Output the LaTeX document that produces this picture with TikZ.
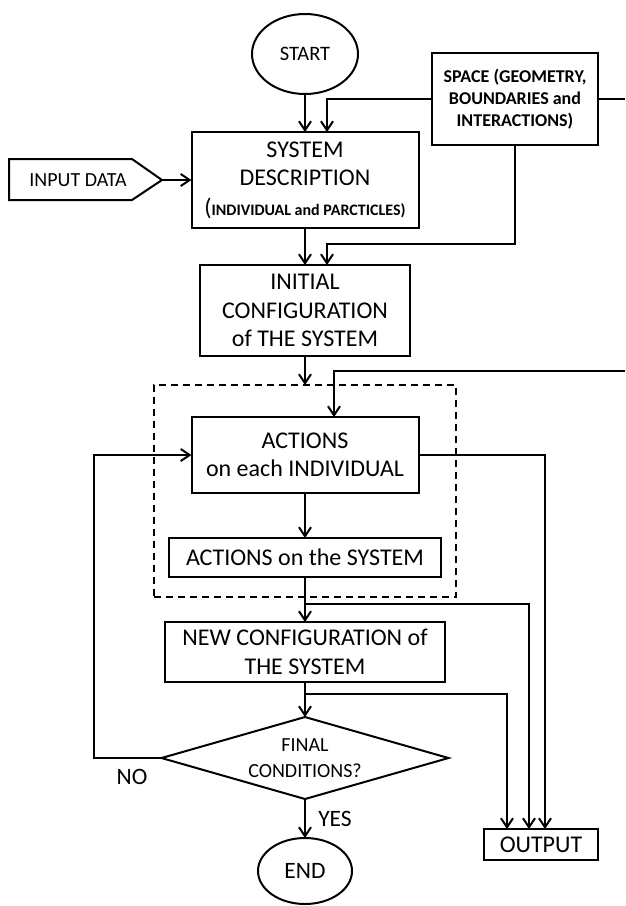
\documentclass[tikz,border=0pt]{standalone}
\usepackage{fontspec}
\setmainfont{Carlito}
\usetikzlibrary{arrows.meta,shapes.geometric,calc}
\begin{document}
\begin{tikzpicture}[x=1pt,y=-1pt,
  line width=2pt,
  box/.style={draw,line width=2pt,inner sep=0pt,outer sep=0pt,align=center,font=\fontsize{24}{28.5}\selectfont},
  arr/.style={-{Straight Barb[length=9pt,width=12pt]},line width=2pt},
  ln/.style={line width=2pt},
  lbl/.style={inner sep=0pt,font=\fontsize{23.5}{28}\selectfont},
]
\useasboundingbox (0,0) rectangle (625,906);
% nodes
\node[box,ellipse,minimum width=106pt,minimum height=80pt,font=\fontsize{20.5}{24}\selectfont] (start) at (305,54) {START};
\node[box,minimum width=166pt,minimum height=92pt,font=\bfseries\fontsize{18}{22}\selectfont] (space) at (515,99) {SPACE (GEOMETRY,\\BOUNDARIES and\\INTERACTIONS)};
\node[box,minimum width=227pt,minimum height=96pt] (sys) at (305,180) {SYSTEM\\DESCRIPTION\\[1pt]{\fontsize{24}{24}\selectfont(}{\bfseries\fontsize{16}{18}\selectfont INDIVIDUAL and PARCTICLES)}};
\draw[ln] (9,159) -- (132,159) -- (162,180) -- (132,200) -- (9,200) -- cycle;
\node[lbl,font=\fontsize{20}{24}\selectfont] (input) at (78,180) {INPUT DATA};
\coordinate (inputtip) at (162,180);
\node[box,minimum width=210pt,minimum height=91pt] (initial) at (305,310.5) {INITIAL\\CONFIGURATION\\of THE SYSTEM};
\node[draw,dash pattern=on 7pt off 5pt,line width=2pt,inner sep=0pt,outer sep=0pt,minimum width=302pt,minimum height=212pt] (group) at (305,491) {};
\node[box,minimum width=227pt,minimum height=76pt] (act) at (305,455) {ACTIONS\\on each INDIVIDUAL};
\node[box,minimum width=272pt,minimum height=39pt] (actsys) at (305,557.5) {ACTIONS on the SYSTEM};
\node[box,minimum width=280pt,minimum height=60pt] (newc) at (305,652) {NEW CONFIGURATION of\\THE SYSTEM};
\node[box,diamond,aspect=3.5,minimum width=287pt,minimum height=82pt,font=\fontsize{20}{26}\selectfont] (diam) at (305,758) {FINAL\\CONDITIONS?};
\node[box,ellipse,minimum width=94pt,minimum height=66pt,font=\fontsize{23.5}{28}\selectfont] (end) at (305,871) {END};
\node[box,minimum width=114pt,minimum height=31pt] (output) at (541,844.5) {OUTPUT};
\node[lbl] (nolabel) at (132,777) {NO};
\node[lbl] (yeslabel) at (335,819) {YES};
\coordinate (rout) at (625,99);
\coordinate (rin) at (625,371);
% connectors
\draw[arr] (start.south) -- (sys.north);
\draw[arr] (space.west) -| ([xshift=22pt]sys.north);
\draw[ln] (space.east) -- (rout);
\draw[arr] (space.south) |- ([xshift=22pt,yshift=21pt]initial.north) -- ([xshift=22pt]initial.north);
\draw[arr] (inputtip) -- (sys.west);
\draw[arr] (sys.south) -- (initial.north);
\draw[arr] (initial.south) -- (group.north);
\draw[arr] (rin) -| ([xshift=29pt]act.north);
\draw[arr] (act.south) -- (actsys.north);
\draw[arr] (actsys.south) -- (newc.north);
\draw[arr] ([yshift=-27pt]actsys.south) -| ([xshift=-12pt]output.north);
\draw[arr] (act.east) -| ([xshift=4pt]output.north);
\draw[arr] (newc.south) -- (diam.north);
\draw[arr] ([yshift=-12pt]newc.south) -| ([xshift=-34pt]output.north);
\draw[arr] (diam.west) -- ++(-68,0) |- (act.west);
\draw[arr] (diam.south) -- (end.north);
\end{tikzpicture}
\end{document}
